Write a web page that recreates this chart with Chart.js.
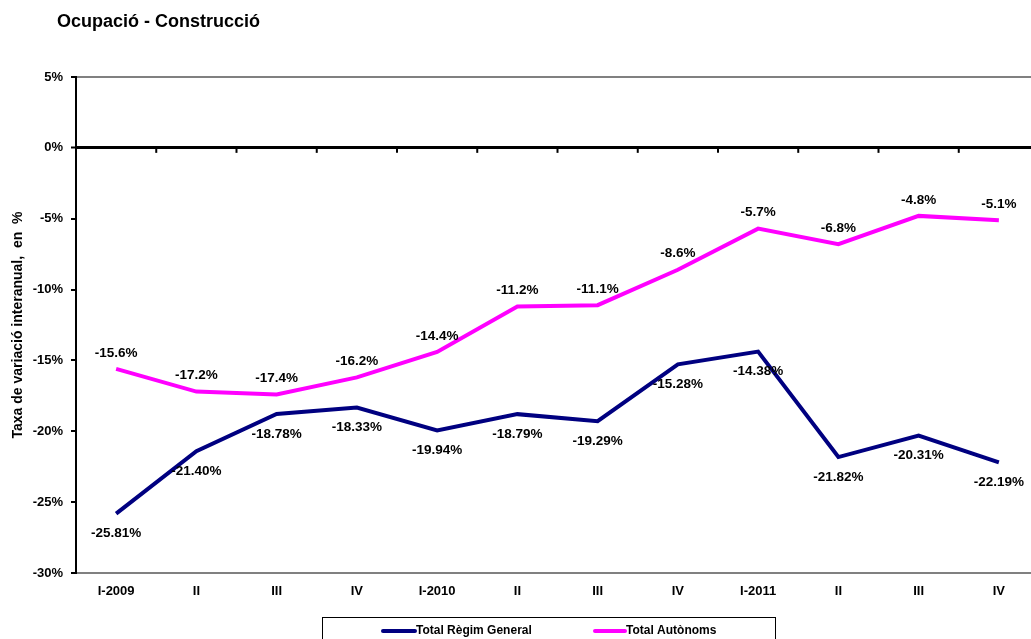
<!DOCTYPE html>
<html lang="ca">
<head>
  <meta charset="UTF-8">
  <title>Ocupació - Construcció</title>
  <script src="https://cdn.jsdelivr.net/npm/chart.js"></script>
  <style>
    body { margin: 0; background: #fff; overflow: hidden; }
    canvas { display: block; }
  </style>
</head>
<body>
  <canvas id="chart" width="1045" height="639"></canvas>

  <script>
    const labels = ['I-2009', 'II', 'III', 'IV', 'I-2010', 'II', 'III', 'IV', 'I-2011', 'II', 'III', 'IV'];
    const regimGeneral = [-25.81, -21.40, -18.78, -18.33, -19.94, -18.79, -19.29, -15.28, -14.38, -21.82, -20.31, -22.19];
    const autonoms = [-15.6, -17.2, -17.4, -16.2, -14.4, -11.2, -11.1, -8.6, -5.7, -6.8, -4.8, -5.1];
    const yTicks = [5, 0, -5, -10, -15, -20, -25, -30];

    const FONT = 'Arial, "Liberation Sans", sans-serif';

    // etiquetes de valor, títol, llegenda i marques de l'eix zero
    const extras = {
      id: 'extras',
      afterDatasetsDraw(chart) {
        const ctx = chart.ctx;
        ctx.save();
        ctx.font = 'bold 13.5px ' + FONT;
        ctx.fillStyle = '#000';
        ctx.textAlign = 'center';
        ctx.textBaseline = 'middle';
        chart.data.datasets.forEach((ds, i) => {
          const meta = chart.getDatasetMeta(i);
          meta.data.forEach((pt, j) => {
            const txt = ds.data[j].toFixed(ds.decimals) + '%';
            ctx.fillText(txt, pt.x, pt.y + ds.labelOffset);
          });
        });
        ctx.restore();
      },
      afterDraw(chart) {
        const ctx = chart.ctx;
        const x = chart.scales.x, y = chart.scales.y;
        ctx.save();

        // marques sobre la línia del 0%
        const y0 = y.getPixelForValue(0);
        ctx.strokeStyle = '#000';
        ctx.lineWidth = 2;
        for (let i = 0; i < labels.length - 1; i++) {
          const bx = (x.getPixelForTick(i) + x.getPixelForTick(i + 1)) / 2;
          ctx.beginPath();
          ctx.moveTo(bx, y0);
          ctx.lineTo(bx, y0 + 5);
          ctx.stroke();
        }

        // títol
        ctx.fillStyle = '#000';
        ctx.font = 'bold 18px ' + FONT;
        ctx.textAlign = 'left';
        ctx.textBaseline = 'middle';
        ctx.fillText('Ocupació - Construcció', 57, 22);

        // llegenda
        ctx.lineWidth = 1;
        ctx.strokeStyle = '#000';
        ctx.strokeRect(322.5, 617.5, 453, 40);
        const items = [[383, 415], [595, 625]];
        ctx.font = 'bold 12px ' + FONT;
        chart.data.datasets.forEach((ds, i) => {
          const [a, b] = items[i];
          ctx.strokeStyle = ds.borderColor;
          ctx.lineWidth = 4;
          ctx.lineCap = 'round';
          ctx.beginPath();
          ctx.moveTo(a, 631);
          ctx.lineTo(b, 631);
          ctx.stroke();
          ctx.fillStyle = '#000';
          ctx.fillText(ds.label, b + 1, 631);
        });
        ctx.restore();
      }
    };

    new Chart(document.getElementById('chart').getContext('2d'), {
      type: 'line',
      data: {
        labels: labels,
        datasets: [{
          label: 'Total Règim General',
          data: regimGeneral,
          borderColor: '#000080',
          backgroundColor: '#000080',
          borderWidth: 4,
          pointRadius: 0,
          tension: 0,
          decimals: 2,
          labelOffset: 20
        }, {
          label: 'Total Autònoms',
          data: autonoms,
          borderColor: '#FF00FF',
          backgroundColor: '#FF00FF',
          borderWidth: 4,
          pointRadius: 0,
          tension: 0,
          decimals: 1,
          labelOffset: -16
        }]
      },
      options: {
        responsive: false,
        animation: false,
        layout: { padding: { left: 0, top: 77, right: 6, bottom: 10 } },
        plugins: {
          legend: { display: false },
          tooltip: { enabled: false }
        },
        scales: {
          x: {
            offset: true,
            grid: { display: false },
            border: { display: true, color: '#808080', width: 2 },
            ticks: {
              color: '#000',
              font: { family: FONT, size: 13, weight: 'bold' },
              padding: 3,
              autoSkip: false,
              maxRotation: 0
            },
            afterFit(scale) { scale.height = 56; }
          },
          y: {
            min: Math.min(...yTicks),
            max: Math.max(...yTicks),
            afterBuildTicks(scale) { scale.ticks = yTicks.map(v => ({ value: v })); },
            grid: {
              drawOnChartArea: true,
              drawTicks: true,
              tickLength: 5,
              tickColor: '#000',
              tickWidth: 2,
              color: c => c.tick && c.tick.value === 0 ? '#000' : (c.tick && c.tick.value === 5 ? '#808080' : 'rgba(0,0,0,0)'),
              lineWidth: c => c.tick && c.tick.value === 0 ? 3 : 2
            },
            border: { display: true, color: '#000', width: 2 },
            ticks: {
              color: '#000',
              font: { family: FONT, size: 13, weight: 'bold' },
              padding: 8,
              callback: v => v + '%'
            },
            title: {
              display: true,
              text: 'Taxa de variació interanual,  en  %',
              color: '#000',
              font: { family: FONT, size: 14, weight: 'bold' },
              padding: { top: 10, bottom: 0 }
            },
            afterFit(scale) { scale.width = 76; }
          }
        }
      },
      plugins: [extras]
    });
  </script>
</body>
</html>
